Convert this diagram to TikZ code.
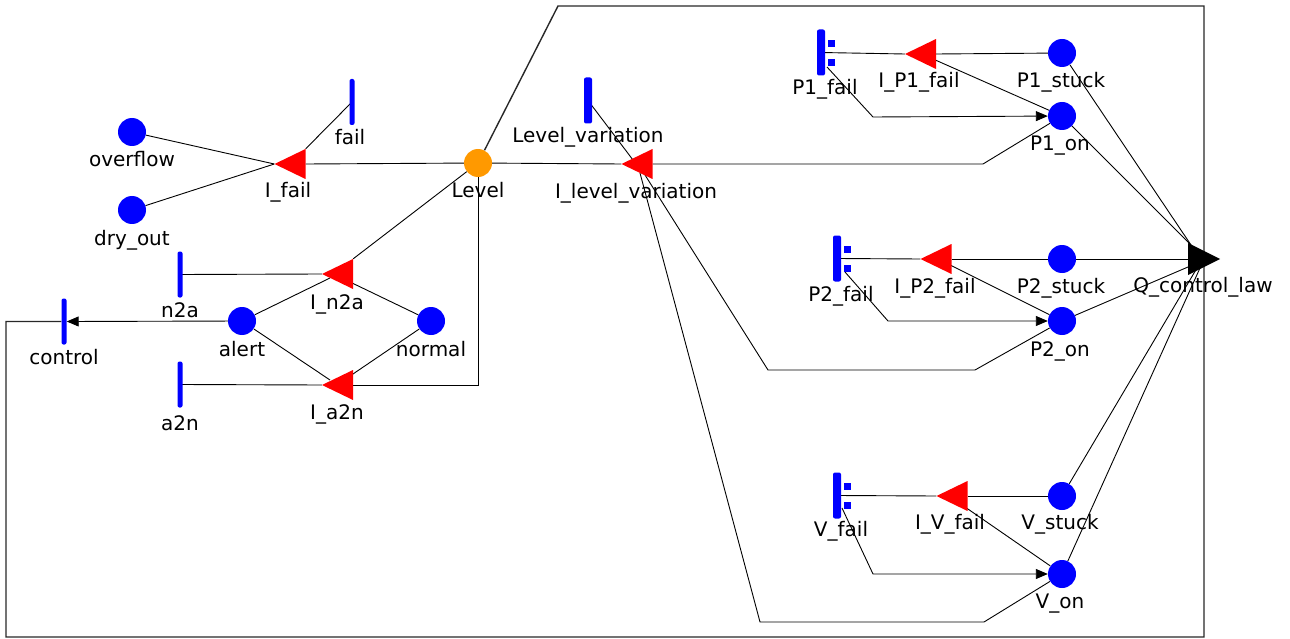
\documentclass[tikz,border=0pt]{standalone}
\usepackage{fontspec}
\setmainfont{DejaVu Sans}
\usetikzlibrary{arrows.meta,backgrounds}
\definecolor{pblue}{RGB}{0,0,255}
\definecolor{tred}{RGB}{255,0,0}
\definecolor{porange}{RGB}{255,153,0}
\definecolor{framec}{RGB}{40,40,40}
\begin{document}
\begin{tikzpicture}[x=1pt,y=-1pt,
  place/.style={circle,fill=pblue,minimum size=28pt,inner sep=0pt},
  trans/.style={rectangle,minimum width=31pt,minimum height=30pt,inner sep=0pt,
    path picture={\fill[tred] (path picture bounding box.north east) -- (path picture bounding box.south east) -- (path picture bounding box.west) -- cycle;}},
  qtrans/.style={rectangle,minimum width=32pt,minimum height=32pt,inner sep=0pt,
    path picture={\fill[black] (path picture bounding box.north west) -- (path picture bounding box.south west) -- (path picture bounding box.east) -- cycle;}},
  bar/.style={rectangle,fill=pblue,minimum width=5pt,minimum height=46pt,inner sep=0pt,rounded corners=2pt},
  wbar/.style={bar,minimum width=8pt},
  lab/.style={anchor=base,font=\fontsize{20}{24}\selectfont,inner sep=0pt},
  link/.style={draw=black,line width=0.9pt},
  arr/.style={link,-{Triangle[length=12pt,width=10pt]}},
  framel/.style={draw=framec,line width=1.4pt},
]
\useasboundingbox (0,0) rectangle (1290,639);
% places
\node[place] (overflow) at (132,132) {};
\node[place] (dryout) at (132,210) {};
\node[place,fill=porange] (Level) at (478,163) {};
\node[place] (alert) at (242,321) {};
\node[place] (normal) at (431,321) {};
\node[place] (P1s) at (1062,53) {};
\node[place] (P1o) at (1062,116) {};
\node[place] (P2s) at (1062,259) {};
\node[place] (P2o) at (1062,321) {};
\node[place] (Vs) at (1062,496) {};
\node[place] (Vo) at (1062,574) {};
% transitions
\node[trans] (Ifail) at (290,164) {};
\node[trans] (Ilv) at (637,164) {};
\node[trans] (In2a) at (337.5,274) {};
\node[trans] (Ia2n) at (337.5,385) {};
\node[trans] (IP1) at (920.5,54) {};
\node[trans] (IP2) at (936,259) {};
\node[trans] (IV) at (952,496) {};
\node[qtrans] (Q) at (1204,259) {};
% bars
\node[bar] (fail) at (352,102) {};
\node[wbar] (Lvar) at (588,100.5) {};
\node[bar] (n2a) at (180,274.5) {};
\node[bar] (a2n) at (180,384.5) {};
\node[bar] (control) at (64,321.5) {};
\node[wbar] (P1f) at (821,52.5) {};
\node[wbar] (P2f) at (837,258.5) {};
\node[wbar] (Vf) at (837,495.5) {};
\foreach \b in {P1f,P2f,Vf}{
  \fill[pblue] ([shift={(6.5,-12.5)}]\b.center) rectangle ++(7,7);
  \fill[pblue] ([shift={(6.5,6.5)}]\b.center) rectangle ++(7,7);
}
% labels
\node[lab] (t1) at (132,167) {overflow};
\node[lab] (t2) at (132,245) {dry\_out};
\node[lab] (t3) at (350,145) {fail};
\node[lab] (t4) at (288,198) {I\_fail};
\node[lab] (t5) at (478,198) {Level};
\node[lab] (t6) at (588,143) {Level\_variation};
\node[lab] (t7) at (636,199) {I\_level\_variation};
\node[lab] (t8) at (825,95) {P1\_fail};
\node[lab] (t9) at (919,88) {I\_P1\_fail};
\node[lab] (t10) at (1061,88) {P1\_stuck};
\node[lab] (t11) at (1060,151) {P1\_on};
\node[lab] (t12) at (841,301) {P2\_fail};
\node[lab] (t13) at (935,293) {I\_P2\_fail};
\node[lab] (t14) at (1061,293) {P2\_stuck};
\node[lab] (t15) at (1060,356) {P2\_on};
\node[lab] (t16) at (1203,292) {Q\_control\_law};
\node[lab] (t17) at (841,536) {V\_fail};
\node[lab] (t18) at (950,529) {I\_V\_fail};
\node[lab] (t19) at (1060,529) {V\_stuck};
\node[lab] (t20) at (1060,608) {V\_on};
\node[lab] (t21) at (180,317) {n2a};
\node[lab] (t22) at (64,364) {control};
\node[lab] (t23) at (242,356) {alert};
\node[lab] (t24) at (431,356) {normal};
\node[lab] (t25) at (337,309) {I\_n2a};
\node[lab] (t26) at (337,419) {I\_a2n};
\node[lab] (t27) at (180,430) {a2n};
% connectors
\begin{scope}[on background layer]
\draw[link] (overflow) -- (Ifail.west);
\draw[link] (dryout) -- (Ifail.west);
\draw[link] (fail.center) -- (Ifail.north east);
\draw[link] (Level) -- (Ifail.east);
\draw[link] (Level) -- (Ilv.west);
\draw[link] (Ilv.east) -- (983,164) -- (P1o);
\draw[framel] (Level) -- (558,6) -- (1204,6) -- (1204,637) -- (6,637) -- (6,321.5) -- (control);
\draw[link] (Level) -- (In2a.north east);
\draw[link] (Level.south) -- (478,385) -- (Ia2n.east);
\draw[link] (n2a.center) -- (In2a.west);
\draw[link] (alert) -- ([shift={(-7.5,4)}]In2a.center);
\draw[link] (normal) -- ([shift={(12.5,8)}]In2a.center);
\draw[link] (alert) -- ([shift={(-7.5,-5)}]Ia2n.center);
\draw[link] (normal) -- ([shift={(14,-10)}]Ia2n.center);
\draw[link] (a2n.center) -- (Ia2n.west);
\draw[arr] (alert) -- (control.east);
\draw[link] (Lvar.center) -- ([shift={(-4,-4)}]Ilv.center);
\draw[link] ([shift={(8,11)}]Ilv.center) -- (768,370) -- (975,370) -- (P2o);
\draw[link] ([shift={(3,9)}]Ilv.center) -- (760,622) -- (984,622) -- (Vo);
% P1
\draw[link] (P1s) -- (IP1.east);
\draw[link] (IP1.west) -- (P1f.center);
\draw[link] (P1o) -- ([shift={(12.5,5)}]IP1.center);
\draw[arr] ([shift={(6,14.5)}]P1f.center) -- (873,117) -- (P1o);
\draw[link] (P1s) -- ([shift={(-13,-14)}]Q.center);
\draw[link] (P1o) -- ([shift={(-13,-14)}]Q.center);
% P2
\draw[link] (P2s) -- (IP2.east);
\draw[link] (IP2.west) -- (P2f.center);
\draw[link] (P2o) -- ([shift={(14,6)}]IP2.center);
\draw[arr] ([shift={(8,13.5)}]P2f.center) -- (888,321) -- (P2o);
\draw[link] (P2s) -- (Q.west);
\draw[link] (P2o) -- ([shift={(-16,8)}]Q.center);
% V
\draw[link] (Vs) -- (IV.east);
\draw[link] (IV.west) -- (Vf.center);
\draw[link] (Vo) -- ([shift={(13,11)}]IV.center);
\draw[arr] ([shift={(5,12.5)}]Vf.center) -- (873,574) -- (Vo);
\draw[link] (Vs) -- ([shift={(-7,9)}]Q.center);
\draw[link] (Vo) -- ([shift={(-4,9)}]Q.center);
\end{scope}
\end{tikzpicture}
\end{document}
